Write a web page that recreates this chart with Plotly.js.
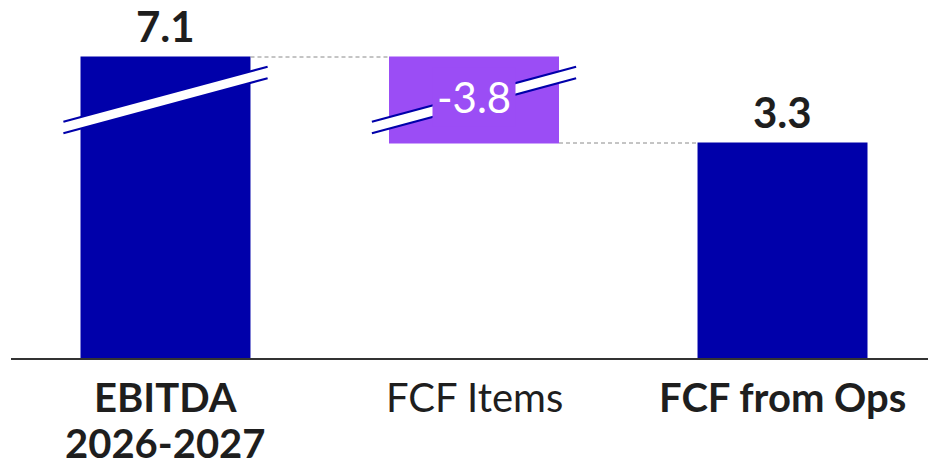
<!DOCTYPE html>
<html>
<head>
<meta charset="utf-8">
<script src="https://cdn.plot.ly/plotly-3.0.1.min.js"></script>
<style>html,body{margin:0;padding:0;background:#fff;}#chart{width:928px;height:466px;}</style>
</head>
<body>
<div id="chart"></div>
<script>
// ---- data ----
const categories = ['EBITDA 2026-2027', 'FCF Items', 'FCF from Ops'];
const tickLabels = ['<b>EBITDA<br>2026-2027</b>', 'FCF Items', '<b>FCF from Ops</b>'];
const values = [7.1, -3.8, 3.3];
const measures = ['absolute', 'relative', 'total'];
const valueLabels = ['7.1', '-3.8', '3.3'];
const brokenBars = [true, true, false];
const axisBreak = 2.48; // amount of value hidden by the axis break

// ---- styles ----
const BLUE = '#0000AA';
const PURPLE = '#9B4DF5';
const TEXT = '#1e1e1e';
const FONT = 'Lato, "Open Sans", sans-serif';
const pxPerUnit = 65.15;

// displayed (broken-axis) values
const xs = categories.map((c, i) => i);
const shown = values.map((v, i) => {
  if (measures[i] === 'total') return 0;
  if (!brokenBars[i]) return v;
  return v > 0 ? v - axisBreak : v + axisBreak;
});
// cumulative displayed levels
let level = 0;
const tops = [], bottoms = [];
values.forEach((v, i) => {
  if (measures[i] === 'absolute') { bottoms.push(0); level = shown[i]; tops.push(level); }
  else if (measures[i] === 'relative') { const start = level; level += shown[i]; tops.push(Math.max(start, level)); bottoms.push(Math.min(start, level)); }
  else { bottoms.push(0); tops.push(level); }
});
const breakY = (tops[1] + bottoms[1]) / 2;

const trace = {
  type: 'waterfall',
  x: xs,
  y: shown,
  measure: measures,
  width: xs.map(() => 0.551),
  increasing: {marker: {color: BLUE, line: {width: 0}}},
  decreasing: {marker: {color: PURPLE, line: {width: 0}}},
  totals: {marker: {color: BLUE, line: {width: 0}}},
  connector: {mode: 'between', line: {color: '#8a8a8a', width: 1, dash: '4px,3px'}},
  text: xs.map(() => ''),
  textposition: 'none',
  hoverinfo: 'skip',
  showlegend: false
};

// value labels
const annotations = values.map((v, i) => {
  if (v >= 0) {
    return {x: i, y: tops[i], xref: 'x', yref: 'y', text: '<b>' + valueLabels[i] + '</b>',
      showarrow: false, yanchor: 'bottom', yshift: 4,
      font: {family: FONT, size: 42, color: TEXT}};
  }
  return {x: i, y: (tops[i] + bottoms[i]) / 2, xref: 'x', yref: 'y', text: valueLabels[i],
    showarrow: false, yanchor: 'middle', xanchor: 'center', yshift: 3,
    bgcolor: PURPLE, borderpad: 4,
    font: {family: FONT, size: 42, color: '#ffffff'}};
});

// category labels (one annotation per line for tighter line spacing)
tickLabels.forEach((lab, i) => {
  const bold = lab.indexOf('<b>') >= 0;
  const lines = lab.replace(/<\/?b>/g, '').split('<br>');
  lines.forEach((ln, k) => {
    annotations.push({x: i, y: 0, xref: 'x', yref: 'paper', showarrow: false,
      text: bold ? '<b>' + ln + '</b>' : ln,
      yanchor: 'middle', xanchor: 'center', yshift: -39 - 46 * k,
      font: {family: FONT, size: 40, color: TEXT}});
  });
});

// axis break marks
const shapes = [];
const hw = 0.331, slopeHalf = 27.5 / pxPerUnit, gap = 5.8 / pxPerUnit;
brokenBars.forEach((b, i) => {
  if (!b) return;
  const x0 = i - hw, x1 = i + hw;
  const y0 = breakY - slopeHalf, y1 = breakY + slopeHalf;
  shapes.push({type: 'path', xref: 'x', yref: 'y', layer: 'above',
    path: `M ${x0},${y0 - gap} L ${x1},${y1 - gap} L ${x1},${y1 + gap} L ${x0},${y0 + gap} Z`,
    fillcolor: '#ffffff', line: {width: 0}});
  [-gap, gap].forEach(g => shapes.push({type: 'line', xref: 'x', yref: 'y', layer: 'above',
    x0: x0, y0: y0 + g, x1: x1, y1: y1 + g, line: {color: BLUE, width: 2.2}}));
});

const layout = {
  width: 928, height: 466,
  margin: {l: 11, r: 0, t: 0, b: 108},
  paper_bgcolor: '#ffffff', plot_bgcolor: '#ffffff',
  font: {family: FONT, color: TEXT},
  xaxis: {range: [-0.5008, 2.4716], tickvals: xs, ticktext: tickLabels, showticklabels: false,
    showline: true, linecolor: '#333333', linewidth: 2, showgrid: false, zeroline: false,
    ticks: '', fixedrange: true},
  yaxis: {range: [0, 358 / pxPerUnit], visible: false, showgrid: false, zeroline: false, fixedrange: true},
  annotations: annotations,
  shapes: shapes,
  showlegend: false
};

Plotly.newPlot('chart', [trace], layout, {displayModeBar: false, staticPlot: true});
</script>
</body>
</html>
